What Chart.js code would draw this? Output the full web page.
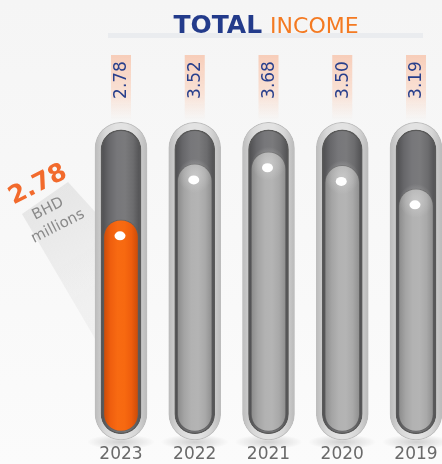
<!DOCTYPE html>
<html>
<head>
<meta charset="utf-8">
<script src="https://cdn.jsdelivr.net/npm/chart.js@4.4.1/dist/chart.umd.min.js"></script>
<style>
  html, body { margin: 0; padding: 0; }
  body { width: 442px; height: 464px; background: linear-gradient(#f5f5f5, #fbfbfb); overflow: hidden; }
  #wrap { position: relative; width: 442px; height: 464px; }
</style>
</head>
<body>
<div id="wrap"><canvas id="incomeChart"></canvas></div>
<script>
const years = ['2023', '2022', '2021', '2020', '2019'];
const income = [2.78, 3.52, 3.68, 3.50, 3.19];
const highlight = 0; // 2023 is the orange one
const tubeCapacity = 3.97;
const unitLabel = ['BHD', 'millions'];

const xPix = (chart, i) => chart.scales.x.getPixelForValue(i);

function hGrad(c, w, stops, fallback) {
   const chart = c.chart;
   if (!chart.chartArea || c.dataIndex === undefined) return fallback;
   const x = xPix(chart, c.dataIndex);
   const g = chart.ctx.createLinearGradient(x - w / 2, 0, x + w / 2, 0);
   stops.forEach((s, k) => g.addColorStop(k / (stops.length - 1), s));
   return g;
}

const greyFill = ['#8a8a8a', '#a4a4a4', '#b2b2b2', '#b4b4b4', '#a9a9a9', '#8e8e8e'];
const orangeFill = ['#c94a08', '#ef5e0e', '#f86a12', '#f76910', '#ee5d0d', '#c84a08'];

const tubeDecor = {
   id: 'tubeDecor',
   beforeDatasetsDraw(chart) {
      const ctx = chart.ctx;
      const meta = chart.getDatasetMeta(0);
      // grey band behind the left annotation
      const x0 = meta.data[0].x;
      ctx.save();
      const bg = ctx.createLinearGradient(20, 180, 96, 300);
      bg.addColorStop(0, 'rgba(218,218,218,0.7)');
      bg.addColorStop(1, 'rgba(228,228,228,0.4)');
      ctx.fillStyle = bg;
      ctx.beginPath();
      ctx.moveTo(22, 214);
      ctx.lineTo(68, 182);
      ctx.lineTo(x0 - 24, 214);
      ctx.lineTo(x0 - 24, 342);
      ctx.closePath();
      ctx.fill();
      // soft shadows under tubes
      meta.data.forEach(el => {
         const y = chart.scales.y.getPixelForValue(0) + 12;
         const g = ctx.createRadialGradient(el.x, y, 2, el.x, y, 34);
         g.addColorStop(0, 'rgba(0,0,0,0.16)');
         g.addColorStop(1, 'rgba(0,0,0,0)');
         ctx.fillStyle = g;
         ctx.save();
         ctx.translate(el.x, y);
         ctx.scale(1, 0.22);
         ctx.translate(-el.x, -y);
         ctx.beginPath();
         ctx.arc(el.x, y, 34, 0, Math.PI * 2);
         ctx.fill();
         ctx.restore();
      });
      ctx.restore();
   },
   afterDatasetsDraw(chart) {
      const ctx = chart.ctx;
      const meta = chart.getDatasetMeta(0);
      ctx.save();
      meta.data.forEach((el, i) => {
         if (i !== highlight) {
            // soft light on the grey cap
            const hy = el.y + 12;
            const hg = ctx.createRadialGradient(el.x, hy, 2, el.x, hy, 17);
            hg.addColorStop(0, 'rgba(215,215,215,0.5)');
            hg.addColorStop(1, 'rgba(215,215,215,0)');
            ctx.fillStyle = hg;
            ctx.beginPath();
            ctx.arc(el.x, hy, 17, 0, Math.PI * 2);
            ctx.fill();
         }
         // white dot
         ctx.fillStyle = '#ffffff';
         ctx.beginPath();
         ctx.ellipse(el.x - 1, el.y + 16, 5.5, 4.5, 0, 0, Math.PI * 2);
         ctx.fill();
      });
      ctx.restore();
   },
   afterDraw(chart) {
      const ctx = chart.ctx;
      const meta = chart.getDatasetMeta(0);
      ctx.save();
      // title
      ctx.fillStyle = '#eaecef';
      ctx.fillRect(108, 33, 315, 5);
      ctx.font = 'bold 25px "DejaVu Sans"';
      const w1 = ctx.measureText('TOTAL').width;
      ctx.font = '22px "DejaVu Sans"';
      const w2 = ctx.measureText('INCOME').width;
      const gap = 8;
      let tx = 266 - (w1 + gap + w2) / 2;
      ctx.textBaseline = 'alphabetic';
      ctx.textAlign = 'left';
      ctx.font = 'bold 25px "DejaVu Sans"';
      ctx.fillStyle = '#233b8b';
      ctx.fillText('TOTAL', tx, 33);
      ctx.font = '22px "DejaVu Sans"';
      ctx.fillStyle = '#f47a22';
      ctx.fillText('INCOME', tx + w1 + gap, 33);
      // value tags
      meta.data.forEach((el, i) => {
         const g = ctx.createLinearGradient(0, 55, 0, 120);
         g.addColorStop(0, 'rgba(247,205,185,1)');
         g.addColorStop(0.6, 'rgba(249,220,205,0.8)');
         g.addColorStop(1, 'rgba(249,225,212,0)');
         ctx.fillStyle = g;
         ctx.fillRect(el.x - 10, 55, 20, 65);
         ctx.save();
         ctx.translate(el.x + 1, 80);
         ctx.rotate(-Math.PI / 2);
         ctx.font = '17px "DejaVu Sans"';
         ctx.fillStyle = '#283f8c';
         ctx.textAlign = 'center';
         ctx.textBaseline = 'middle';
         ctx.fillText(income[i].toFixed(2), 0, 0);
         ctx.restore();
      });
      // left annotation
      ctx.save();
      ctx.translate(38, 185);
      ctx.rotate(-27 * Math.PI / 180);
      ctx.textAlign = 'center';
      ctx.textBaseline = 'middle';
      ctx.font = 'bold 25px "DejaVu Sans"';
      ctx.fillStyle = '#f26a2c';
      ctx.fillText(income[highlight].toFixed(2), 0, 0);
      ctx.font = '15px "DejaVu Sans"';
      ctx.fillStyle = '#8a8a8a';
      ctx.fillText(unitLabel[0], -2, 26);
      ctx.fillText(unitLabel[1], -1, 46);
      ctx.restore();
      ctx.restore();
   }
};

new Chart(document.getElementById('incomeChart'), {
   type: 'bar',

   data: {
      labels: years,

      datasets: [
         {
            label: 'Income',
            data: income.map(v => [-0.02, v]),
            grouped: false,
            clip: false,
            barThickness: 35,
            borderRadius: 18,
            borderSkipped: false,
            borderWidth: 1,
            borderColor: 'rgba(95,95,95,0.75)',
            backgroundColor: c => hGrad(c, 35, c.dataIndex === highlight ? orangeFill : greyFill, '#aaaaaa')
         },
         {
            label: 'Tube',
            data: years.map(() => [-0.05, tubeCapacity]),
            grouped: false,
            clip: false,
            barThickness: 40,
            borderRadius: 20,
            borderSkipped: false,
            borderWidth: 1.5,
            borderColor: '#595959',
            backgroundColor: c => hGrad(c, 40, ['#4c4c4e', '#67676a', '#77777a', '#7a7a7c', '#6c6c6e', '#4e4e50'], '#6f6f71')
         },
         {
            label: 'Shell',
            data: years.map(() => [-0.13, tubeCapacity + 0.1]),
            grouped: false,
            clip: false,
            barThickness: 52,
            borderRadius: 26,
            borderSkipped: false,
            borderWidth: 1,
            borderColor: '#bdbdbd',
            backgroundColor: c => hGrad(c, 52, ['#bcbcbc', '#d8d8d8', '#e2e2e2', '#e2e2e2', '#d6d6d6', '#bababa'], '#d5d5d5')
         }
      ]
   },

   options: {
      responsive: true,
      maintainAspectRatio: false,
      animation: false,

      layout: {
         padding: { top: 100, left: 121, right: 26, bottom: 0 }
      },

      plugins: {
         legend: { display: false },
         tooltip: { enabled: false }
      },

      scales: {
         x: {
            offset: false,
            grid: { display: false, drawTicks: false },
            border: { display: false },
            ticks: {
               padding: 14,
               color: '#6a6a6a',
               font: { family: 'DejaVu Sans', size: 17 }
            },
            afterFit(scale) {
               scale.height = 34;
               scale.paddingLeft = 0;
               scale.paddingRight = 0;
            }
         },
         y: {
            display: false,
            min: 0,
            max: 4.365
         }
      }
   },

   plugins: [tubeDecor]
});
</script>
</body>
</html>
